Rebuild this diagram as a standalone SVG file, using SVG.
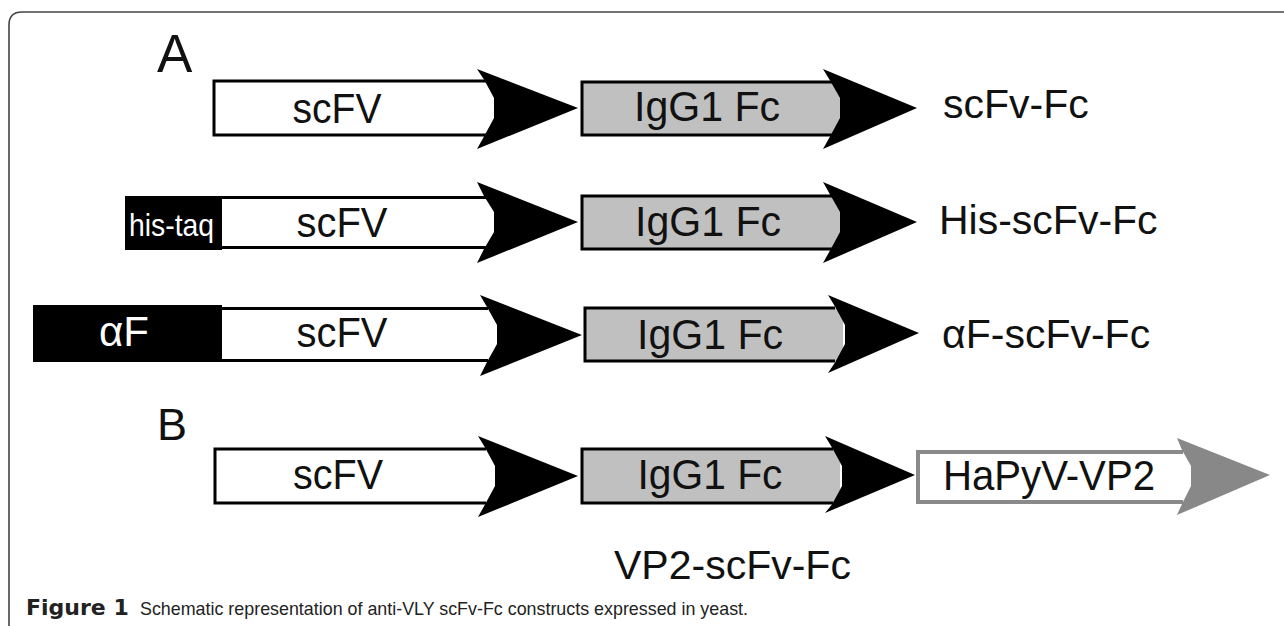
<svg xmlns="http://www.w3.org/2000/svg" width="1284" height="626" viewBox="0 0 1284 626">
<style>
.t{font-family:"Liberation Sans",Arial,sans-serif;fill:#111}
.box{font-size:43px;text-anchor:middle}
.lbl{font-size:41px}
.wf{fill:#fff}
.gf{fill:#c0c0c0}
.ol{fill:none;stroke:#000;stroke-width:3}
.hd{fill:#000}
.cap{font-family:"Liberation Sans",Arial,sans-serif;font-size:19px;fill:#222}
.capb{font-family:"DejaVu Sans","Liberation Sans",sans-serif;font-size:22px;font-weight:bold;fill:#222}
</style>
<rect width="1284" height="626" fill="#fff"/>
<path d="M9,626 V25 Q9,12 22,12 H1284" fill="none" stroke="#444" stroke-width="1.6"/>
<text class="t" x="157" y="72" font-size="53">A</text>
<text class="t" x="157" y="440" font-size="45">B</text>

<g id="row1">
<rect class="wf" x="214" y="81" width="280" height="54"/>
<path class="ol" d="M486,81 H214 V135 H486"/>
<path class="hd" d="M477,69 L578,108 L477,149 L484,136.5 L494,118 L494,98 L484,79.5 Z"/>
<text class="t box" x="337" y="123" textLength="89" lengthAdjust="spacingAndGlyphs">scFV</text>
<rect class="gf" x="582" y="82" width="258" height="53"/>
<path class="ol" d="M832,82 H582 V135 H832"/>
<path class="hd" d="M823,69 L917,108 L823,149 L830,136.5 L840,118 L840,98 L830,80.5 Z"/>
<text class="t box" x="707" y="121" textLength="146" lengthAdjust="spacingAndGlyphs">IgG1 Fc</text>
<text class="t lbl" x="943" y="118">scFv-Fc</text>
</g>

<g id="row2">
<rect x="125" y="196" width="97" height="54" fill="#000"/>
<text x="129" y="236" font-family="Liberation Sans,Arial,sans-serif" font-size="32" fill="#fff" textLength="85" lengthAdjust="spacingAndGlyphs">his-taq</text>
<rect class="wf" x="222" y="197.5" width="272" height="50"/>
<path class="ol" d="M486,197.5 H222 M222,247.5 H486"/>
<path class="hd" d="M477,182 L578,222 L477,263 L484,249 L494,232 L494,212 L484,196 Z"/>
<text class="t box" x="342" y="237" textLength="91" lengthAdjust="spacingAndGlyphs">scFV</text>
<rect class="gf" x="582" y="196" width="258" height="53"/>
<path class="ol" d="M832,196 H582 V249 H832"/>
<path class="hd" d="M823,182 L917,222 L823,263 L830,250.5 L840,232 L840,212 L830,194.5 Z"/>
<text class="t box" x="708" y="236" textLength="146" lengthAdjust="spacingAndGlyphs">IgG1 Fc</text>
<text class="t lbl" x="939" y="234">His-scFv-Fc</text>
</g>

<g id="row3">
<rect x="33" y="305" width="189" height="57" fill="#000"/>
<text x="124" y="346" font-family="Liberation Sans,Arial,sans-serif" font-size="42" fill="#fff" text-anchor="middle">αF</text>
<rect class="wf" x="222" y="308.5" width="275" height="52"/>
<path class="ol" d="M488,308.5 H222 M222,360.5 H488"/>
<path class="hd" d="M480,295 L582,335 L480,376 L487,362 L497,344 L497,325 L487,307 Z"/>
<text class="t box" x="342" y="347" textLength="91" lengthAdjust="spacingAndGlyphs">scFV</text>
<rect class="gf" x="585" y="308" width="258" height="53"/>
<path class="ol" d="M835,308 H585 V361 H835"/>
<path class="hd" d="M828,295 L919,333 L828,373 L835,362.5 L845,344 L845,325 L835,306.5 Z"/>
<text class="t box" x="710" y="349" textLength="146" lengthAdjust="spacingAndGlyphs">IgG1 Fc</text>
<text class="t lbl" x="942" y="348">αF-scFv-Fc</text>
</g>

<g id="rowB">
<rect class="wf" x="215" y="449" width="279" height="54"/>
<path class="ol" d="M486,449 H215 V503 H486"/>
<path class="hd" d="M478,436 L578,476 L478,517 L485,504.5 L495,486 L495,466 L485,447.5 Z"/>
<text class="t box" x="338" y="489" textLength="90" lengthAdjust="spacingAndGlyphs">scFV</text>
<rect class="gf" x="582" y="449" width="258" height="54"/>
<path class="ol" d="M833,449 H582 V503 H833"/>
<path class="hd" d="M825,436 L915,475 L825,513 L832,504.5 L842,486 L842,466 L832,447.5 Z"/>
<text class="t box" x="710" y="489" textLength="145" lengthAdjust="spacingAndGlyphs">IgG1 Fc</text>
<rect class="wf" x="918" y="452" width="270" height="50"/>
<path d="M1183,452 H918 V502 H1183" fill="none" stroke="#8a8a8a" stroke-width="4"/>
<path fill="#888" d="M1177,438 L1270,475 L1177,515 L1182,504 L1191,486 L1191,466 L1182,450 Z"/>
<text class="t" x="943" y="490" font-size="42" textLength="212" lengthAdjust="spacingAndGlyphs">HaPyV-VP2</text>
<text class="t lbl" x="614" y="579">VP2-scFv-Fc</text>
</g>

<g id="caption">
<text class="capb" x="26" y="615">Figure 1</text>
<text class="cap" x="140" y="615" textLength="608" lengthAdjust="spacingAndGlyphs">Schematic representation of anti-VLY scFv-Fc constructs expressed in yeast.</text>
</g>
</svg>
